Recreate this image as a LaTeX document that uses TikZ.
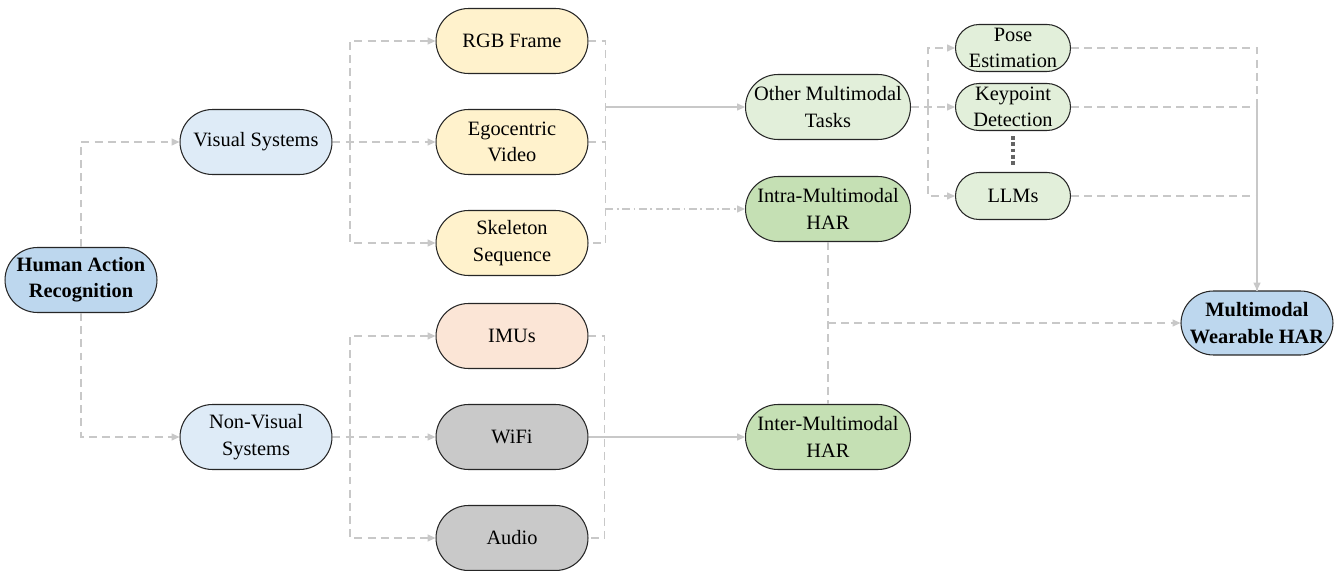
\documentclass[tikz,border=0pt]{standalone}
\usepackage{fontspec}
\setmainfont{Liberation Serif}
\usepackage{xcolor}
\definecolor{harblue}{RGB}{189,215,238}
\definecolor{sysblue}{RGB}{222,235,247}
\definecolor{camyellow}{RGB}{255,242,204}
\definecolor{imuorange}{RGB}{251,229,214}
\definecolor{sensgray}{RGB}{201,201,201}
\definecolor{taskgreen}{RGB}{226,239,218}
\definecolor{mmgreen}{RGB}{197,224,180}
\definecolor{linkgray}{RGB}{200,200,200}
\definecolor{dotgray}{RGB}{100,100,100}
\usetikzlibrary{arrows.meta,calc}

\begin{document}
\begin{tikzpicture}[x=0.02cm, y=-0.02cm,
    pill/.style={draw=black!85, line width=0.6pt, rounded corners=0.65cm,
        minimum width=3.04cm, minimum height=1.3cm, inner sep=0pt,
        align=center, font=\fontsize{11.6}{15}\selectfont},
    widepill/.style={pill, minimum width=3.3cm},
    smallpill/.style={pill, rounded corners=0.47cm, minimum width=2.3cm,
        minimum height=0.94cm, font=\fontsize{11.6}{14.5}\selectfont},
    flow/.style={draw=linkgray, line width=0.7pt, dash pattern=on 4.5pt off 3pt},
    flowarrow/.style={flow, -{Triangle[length=4.5pt,width=4pt]}},
    solidarrow/.style={draw=linkgray, line width=0.7pt, -{Triangle[length=4.5pt,width=4pt]}},
    dotdash/.style={flowarrow, dash pattern=on 4.5pt off 2pt on 1pt off 2pt}]

    \useasboundingbox (0,0) rectangle (1340,571);

    % Root and systems
    \node[pill, fill=harblue, font=\fontsize{11.6}{15}\selectfont\bfseries] (har) at (81,280) {Human Action\\Recognition};
    \node[pill, fill=sysblue] (vis) at (256,142) {Visual Systems};
    \node[pill, fill=sysblue] (nvis) at (256,437) {Non-Visual\\Systems};

    % Modalities
    \node[pill, fill=camyellow] (rgb) at (512,41) {RGB Frame};
    \node[pill, fill=camyellow] (ego) at (512,142) {Egocentric\\Video};
    \node[pill, fill=camyellow] (skel) at (512,243) {Skeleton\\Sequence};
    \node[pill, fill=imuorange] (imu) at (512,336) {IMUs};
    \node[pill, fill=sensgray] (wifi) at (512,437) {WiFi};
    \node[pill, fill=sensgray] (audio) at (512,538) {Audio};

    % Multimodal branches
    \node[widepill, fill=taskgreen] (oth) at (828,107) {Other Multimodal\\Tasks};
    \node[widepill, fill=mmgreen] (intra) at (828,209) {Intra-Multimodal\\HAR};
    \node[widepill, fill=mmgreen] (inter) at (828,437) {Inter-Multimodal\\HAR};

    % Tasks
    \node[smallpill, fill=taskgreen] (pose) at (1013,48) {Pose\\Estimation};
    \node[smallpill, fill=taskgreen] (kp) at (1013,107) {Keypoint\\Detection};
    \node[smallpill, fill=taskgreen] (llm) at (1013,196) {LLMs};

    \node[pill, fill=harblue, minimum height=1.28cm, font=\fontsize{11.6}{15}\selectfont\bfseries] (whar) at (1257,323) {Multimodal\\Wearable HAR};

    % Root to systems
    \draw[flowarrow] (har.north) |- (vis.west);
    \draw[flowarrow] (har.south) |- (nvis.west);

    % Systems to modalities
    \coordinate (vb) at (350,142);
    \coordinate (nb) at (350,437);
    \draw[flowarrow] (vis.east) -- (ego.west);
    \draw[flowarrow] (vb) |- (rgb.west);
    \draw[flowarrow] (vb) |- (skel.west);
    \draw[flowarrow] (nvis.east) -- (wifi.west);
    \draw[flowarrow] (nb) |- (imu.west);
    \draw[flowarrow] (nb) |- (audio.west);

    % Visual modalities to multimodal
    \coordinate (vrt) at ($(rgb.east)+(17,0)$);
    \coordinate (vrb) at ($(skel.east)+(17,0)$);
    \draw[flow] (rgb.east) -- (vrt) -- (vrb) -- (skel.east);
    \draw[flow] (ego.east) -- (ego.east -| vrt);
    \draw[solidarrow] (vrt |- oth) -- (oth.west);
    \draw[dotdash] (vrt |- intra) -- (intra.west);

    % Non-visual modalities to multimodal
    \draw[flow] (imu.east) -- ++(16,0) |- (audio.east);
    \draw[solidarrow] (wifi.east) -- (inter.west);

    % Other tasks
    \coordinate (ob) at ($(oth.east)+(17,0)$);
    \draw[flowarrow] (oth.east) -- (kp.west);
    \draw[flowarrow] (ob) |- (pose.west);
    \draw[flowarrow] (ob) |- (llm.west);
    \draw[dotgray, line width=1.8pt, dash pattern=on 2.2pt off 1.3pt, shorten <=3pt, shorten >=3pt] (kp.south) -- (llm.north);

    % Into wearable HAR
    \draw[flowarrow] (pose.east) -| (whar.north);
    \draw[flow] (kp.east) -| (whar.north);
    \draw[flow] (llm.east) -| (whar.north);
    \coordinate (mid) at (intra.south |- whar.west);
    \draw[flow] (intra.south) -- (inter.north);
    \draw[flowarrow] (mid) -- (whar.west);
\end{tikzpicture}
\end{document}
